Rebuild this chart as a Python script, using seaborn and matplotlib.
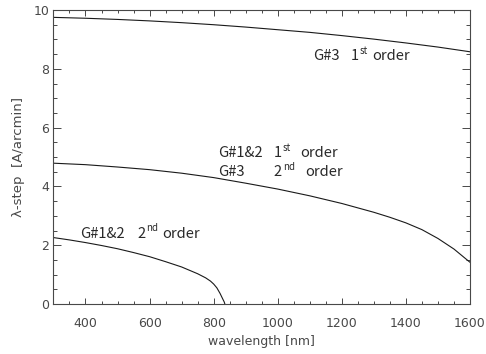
import matplotlib
matplotlib.use("Agg")
import matplotlib.pyplot as plt
from matplotlib.ticker import MultipleLocator
import pandas as pd
import seaborn as sns

# Wavelength step per arcmin for each grating / order
wl_g3_1st = [300, 400, 500, 600, 700, 800, 900, 1000, 1100, 1200, 1300, 1400, 1500, 1600]
step_g3_1st = [9.75, 9.72, 9.68, 9.63, 9.57, 9.50, 9.42, 9.33, 9.24, 9.13, 9.01, 8.88, 8.74, 8.58]

wl_g12_1st = [300, 400, 500, 600, 700, 800, 900, 1000, 1100, 1200, 1300, 1350, 1400, 1450, 1500, 1550, 1600]
step_g12_1st = [4.79, 4.74, 4.66, 4.57, 4.45, 4.30, 4.11, 3.91, 3.68, 3.42, 3.12, 2.95, 2.76, 2.53, 2.23, 1.87, 1.42]

wl_g12_2nd = [300, 350, 400, 450, 500, 550, 600, 650, 700, 750, 775, 790, 800, 810, 820, 828, 833, 835]
step_g12_2nd = [2.26, 2.18, 2.09, 1.99, 1.88, 1.75, 1.61, 1.44, 1.26, 1.03, 0.89, 0.78, 0.68, 0.55, 0.36, 0.18, 0.07, 0.0]

curves = [
    pd.DataFrame({"wavelength": wl_g3_1st, "step": step_g3_1st}),
    pd.DataFrame({"wavelength": wl_g12_1st, "step": step_g12_1st}),
    pd.DataFrame({"wavelength": wl_g12_2nd, "step": step_g12_2nd}),
]

sns.set_theme(style="ticks")
plt.rcParams["font.family"] = ["DejaVu Sans"]

fig = plt.figure(figsize=(4.86, 3.54), dpi=100)
ax = fig.add_axes([0.110, 0.1412, 0.857, 0.8305])

for df in curves:
    sns.lineplot(data=df, x="wavelength", y="step", ax=ax, color="#1a1a1a",
                 linewidth=0.8, estimator=None, sort=False)

ax.set_xlim(300, 1600)
ax.set_ylim(0, 10)
ax.xaxis.set_major_locator(MultipleLocator(200))
ax.xaxis.set_minor_locator(MultipleLocator(50))
ax.yaxis.set_major_locator(MultipleLocator(2))
ax.yaxis.set_minor_locator(MultipleLocator(0.5))

axis_col = "#484848"
ax.tick_params(which="both", direction="in", top=True, right=True,
               colors=axis_col, width=0.7, labelsize=9)
ax.tick_params(axis="x", which="major", length=4.3, pad=9)
ax.tick_params(axis="x", which="minor", length=2.2)
ax.tick_params(axis="y", which="major", length=6.0, pad=3)
ax.tick_params(axis="y", which="minor", length=3.0)
for sp in ax.spines.values():
    sp.set_visible(True)
    sp.set_color(axis_col)
    sp.set_linewidth(0.8)

ax.set_xlabel("wavelength [nm]", fontsize=9, color=axis_col)
ax.set_ylabel("λ-step  [A/arcmin]", fontsize=9.5, color=axis_col)
ax.xaxis.set_label_coords(0.5, -0.105)
ax.yaxis.set_label_coords(-0.068, 0.5)

# Curve labels with superscript ordinals
lab_font = ["Noto Sans CJK JP", "DejaVu Sans"]
lab_col = "#2a2a2a"
fs = 10.6


def ordinal_label(x_name, x_num, x_word, y, name, num, sup):
    ax.text(x_name, y, name, fontsize=fs, family=lab_font, color=lab_col, va="baseline")
    t = ax.text(x_num, y, num, fontsize=fs, family=lab_font, color=lab_col, va="baseline")
    ax.annotate(sup, xy=(1, y), xycoords=(t, "data"), xytext=(0.5, 4.4),
                textcoords="offset points", fontsize=7.0, family=lab_font,
                color=lab_col, va="baseline")
    ax.text(x_word, y, "order", fontsize=fs, family=lab_font, color=lab_col, va="baseline")


ordinal_label(1110, 1228, 1296, 8.30, "G#3", "1", "st")
ordinal_label(814, 988, 1070, 5.01, "G#1&2", "1", "st")
ordinal_label(814, 988, 1085, 4.36, "G#3", "2", "nd")
ordinal_label(383, 563, 640, 2.26, "G#1&2", "2", "nd")

fig.savefig("out.png", dpi=100, facecolor="white")
